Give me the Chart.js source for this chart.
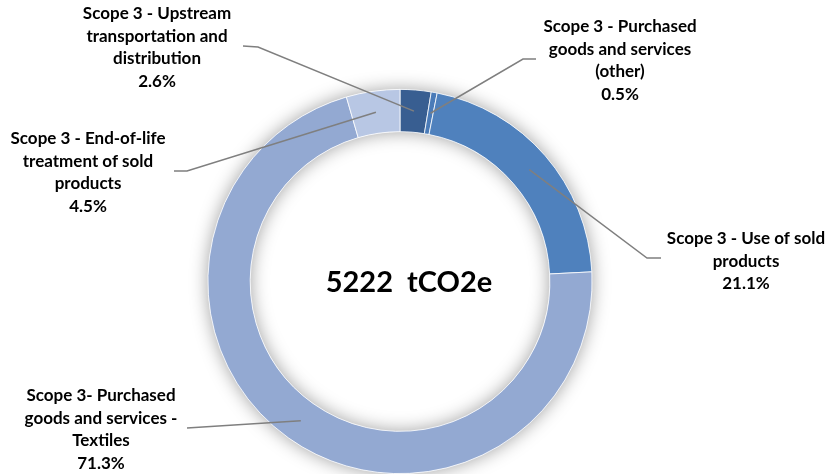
<!DOCTYPE html>
<html>
<head>
<meta charset="utf-8">
<script src="https://cdn.jsdelivr.net/npm/chart.js@4"></script>
<style>
html, body { margin: 0; padding: 0; background: #fff; }
#wrap { width: 831px; height: 474px; position: relative; }
</style>
</head>
<body>
<div id="wrap"><canvas id="scopeChart"></canvas></div>
<script>
// Emission categories (clockwise from the top), each split into display lines
const categories = [
    ['Scope 3 - Upstream', 'transportation and', 'distribution'],
    ['Scope 3 - Purchased', 'goods and services', '(other)'],
    ['Scope 3 - Use of sold', 'products'],
    ['Scope 3- Purchased', 'goods and services -', 'Textiles'],
    ['Scope 3 - End-of-life', 'treatment of sold', 'products']
];
// Share of total emissions, in %
const shareValues = [2.6, 0.5, 21.1, 71.3, 4.5];
const sliceColors = ['#385E91', '#4A7BB8', '#4F81BD', '#93A9D2', '#B8C7E4'];
const totalEmissions = 5222;
const totalUnit = 'tCO2e';

const FONT = 'Lato, "Open Sans", sans-serif';

// Where each callout sits: text centre / first line, elbow and end of leader line
const calloutPlaces = [
    { x: 157, y: 14, elbow: [258, 47], end: [243, 46] },
    { x: 620, y: 27, elbow: [523, 59], end: [536, 59] },
    { x: 746, y: 239, elbow: [647, 258], end: [661, 258] },
    { x: 101, y: 396, elbow: [187, 428], end: [187, 428] },
    { x: 88, y: 139, elbow: [187, 171], end: [174, 171] }
];

// Soft grey glow behind the ring
const ringShadow = {
    id: 'ringShadow',
    beforeDatasetsDraw(chart) {
        const arc = chart.getDatasetMeta(0).data[0];
        const ctx = chart.ctx;
        ctx.save();
        ctx.shadowColor = 'rgba(0,0,0,0.38)';
        ctx.shadowBlur = 18;
        ctx.fillStyle = '#fff';
        ctx.beginPath();
        ctx.arc(arc.x, arc.y, arc.outerRadius, 0, Math.PI * 2);
        ctx.arc(arc.x, arc.y, arc.innerRadius, 0, Math.PI * 2, true);
        ctx.fill();
        ctx.restore();
    }
};

// Callout labels with leader lines
const callouts = {
    id: 'callouts',
    afterDatasetsDraw(chart) {
        const ctx = chart.ctx;
        const meta = chart.getDatasetMeta(0);
        ctx.save();
        meta.data.forEach((arc, i) => {
            const p = calloutPlaces[i];
            const c = arc.getCenterPoint();
            ctx.strokeStyle = '#7f7f7f';
            ctx.lineWidth = 1.5;
            ctx.beginPath();
            ctx.moveTo(c.x, c.y);
            ctx.lineTo(p.elbow[0], p.elbow[1]);
            ctx.lineTo(p.end[0], p.end[1]);
            ctx.stroke();

            const lines = categories[i].concat([shareValues[i].toFixed(1) + '%']);
            ctx.fillStyle = '#000';
            ctx.font = 'bold 17px ' + FONT;
            ctx.textAlign = 'center';
            ctx.textBaseline = 'middle';
            lines.forEach((t, k) => ctx.fillText(t, p.x, p.y + k * 22.5));
        });
        ctx.restore();
    }
};

// Total in the middle of the ring
const centerTotal = {
    id: 'centerTotal',
    afterDatasetsDraw(chart) {
        const arc = chart.getDatasetMeta(0).data[0];
        const ctx = chart.ctx;
        ctx.save();
        ctx.fillStyle = '#000';
        ctx.font = 'bold 29px ' + FONT;
        ctx.textAlign = 'center';
        ctx.textBaseline = 'middle';
        ctx.fillText(totalEmissions + '  ' + totalUnit, arc.x + 9, arc.y + 1);
        ctx.restore();
    }
};

const ctx = document.getElementById('scopeChart').getContext('2d');
new Chart(ctx, {
    type: 'doughnut',
    data: {
        labels: categories.map(l => l.join(' ')),
        datasets: [{
            data: shareValues,
            backgroundColor: sliceColors,
            borderColor: '#ffffff',
            borderWidth: 0.8
        }]
    },
    options: {
        responsive: true,
        maintainAspectRatio: false,
        animation: false,
        cutout: '78%',
        layout: { padding: { top: 89, bottom: 0, left: 0, right: 31 } },
        plugins: {
            legend: { display: false },
            tooltip: { enabled: false }
        }
    },
    plugins: [ringShadow, callouts, centerTotal]
});
</script>
</body>
</html>
